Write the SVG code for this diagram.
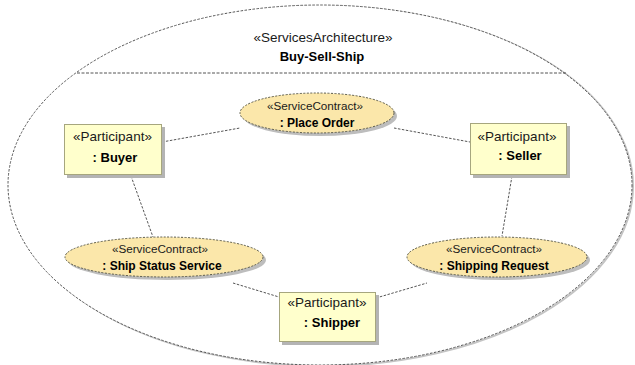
<svg xmlns="http://www.w3.org/2000/svg" width="635" height="365" viewBox="0 0 635 365">
<style>
  .st { font-family: "Liberation Sans", Arial, sans-serif; fill: #1a1a1a; text-anchor: middle; }
  .nm { font-family: "Liberation Sans", Arial, sans-serif; font-weight: bold; fill: #000; text-anchor: middle; }
  .box { fill: #FFFFCC; stroke: #A6A67E; stroke-width: 1; }
  .bshadow { fill: #B4B4B4; }
  .oval { fill: #FBE7AA; stroke: #5a5a4a; stroke-width: 1; stroke-dasharray: 2 1.5; }
  .oshadow { fill: #BDBDBD; }
  .conn { stroke: #555; stroke-width: 1; stroke-dasharray: 2.5 1.5; fill: none; }
</style>
<rect width="635" height="365" fill="#fff"/>
<g id="architecture">
  <ellipse cx="322" cy="186" rx="311" ry="180" fill="none" stroke="#c4c4c4" stroke-width="2"/>
  <ellipse cx="320" cy="185" rx="312" ry="180" fill="#fff" stroke="#555" stroke-width="1" stroke-dasharray="2.5 1.5"/>
  <line x1="77" y1="73" x2="566" y2="73" stroke="#555" stroke-dasharray="3 1.5"/>
  <text class="st" x="323" y="42" font-size="13.5">«ServicesArchitecture»</text>
  <text class="nm" x="322" y="61" font-size="13">Buy-Sell-Ship</text>
</g>
<g id="connectors">
  <line class="conn" x1="162" y1="142" x2="240" y2="128"/>
  <line class="conn" x1="394" y1="128" x2="470" y2="142"/>
  <line class="conn" x1="131" y1="176" x2="153" y2="237"/>
  <line class="conn" x1="512" y1="176" x2="502" y2="236"/>
  <line class="conn" x1="233" y1="283" x2="279" y2="297"/>
  <line class="conn" x1="376" y1="298" x2="427" y2="283"/>
</g>
<g id="place-order">
  <ellipse class="oshadow" cx="320" cy="116" rx="77" ry="20"/>
  <ellipse class="oval" cx="317" cy="113" rx="77" ry="20"/>
  <text class="st" x="315" y="110" font-size="11.7">«ServiceContract»</text>
  <text class="nm" x="317" y="127" font-size="12">: Place Order</text>
</g>
<g id="buyer">
  <rect class="bshadow" x="67" y="127" width="98" height="51"/>
  <rect class="box" x="64.5" y="124.5" width="97" height="50"/>
  <text class="st" x="112.5" y="141" font-size="13.5">«Participant»</text>
  <text class="nm" x="115" y="162" font-size="13">: Buyer</text>
</g>
<g id="seller">
  <rect class="bshadow" x="473" y="126" width="97" height="52"/>
  <rect class="box" x="470.5" y="123.5" width="96" height="51"/>
  <text class="st" x="517" y="141" font-size="13.5">«Participant»</text>
  <text class="nm" x="520" y="160" font-size="13">: Seller</text>
</g>
<g id="ship-status-service">
  <ellipse class="oshadow" cx="167" cy="260" rx="99" ry="20"/>
  <ellipse class="oval" cx="164" cy="257" rx="99" ry="20"/>
  <text class="st" x="160" y="253" font-size="11.7">«ServiceContract»</text>
  <text class="nm" x="162" y="270" font-size="12">: Ship Status Service</text>
</g>
<g id="shipping-request">
  <ellipse class="oshadow" cx="500" cy="260" rx="90" ry="20"/>
  <ellipse class="oval" cx="497" cy="257" rx="90" ry="20"/>
  <text class="st" x="494" y="253" font-size="11.7">«ServiceContract»</text>
  <text class="nm" x="494" y="270" font-size="12">: Shipping Request</text>
</g>
<g id="shipper">
  <rect class="bshadow" x="282" y="295" width="97" height="50"/>
  <rect class="box" x="279.5" y="292.5" width="96" height="49"/>
  <text class="st" x="327" y="307" font-size="13.5">«Participant»</text>
  <text class="nm" x="332" y="327" font-size="13">: Shipper</text>
</g>
</svg>
